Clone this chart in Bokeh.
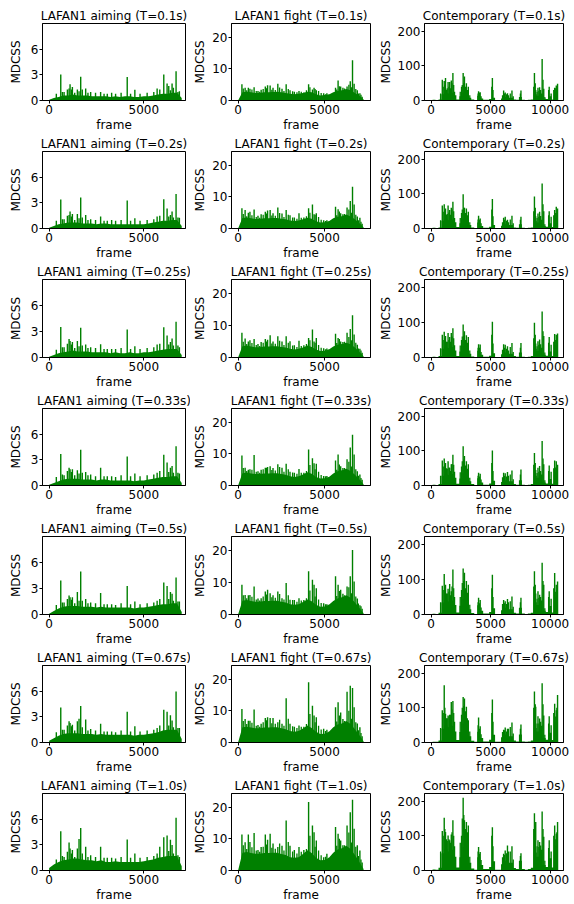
from bokeh.plotting import figure
from bokeh.layouts import gridplot
from bokeh.models import Range1d, FixedTicker
from bokeh.embed import file_html
from bokeh.resources import INLINE

# ---------------- data ----------------
periods = ["0.1", "0.2", "0.25", "0.33", "0.5", "0.67", "1.0"]
dataset_names = ["LAFAN1 aiming", "LAFAN1 fight", "Contemporary"]

# --- LAFAN1 aiming ---
aim_base_f = list(range(0, 7001, 250))
aim_base_01 = [0.1,0.3,0.4,0.6,0.6,0.7,0.6,0.6,0.6,0.5,0.5,0.5,0.5,0.4,0.5,0.4,0.5,0.5,0.4,0.4,0.5,0.5,0.6,0.7,0.8,0.8,0.9,0.9,0.3]
aim_base_02 = [0.1,0.3,0.5,0.6,0.7,0.7,0.7,0.6,0.6,0.6,0.5,0.6,0.6,0.5,0.5,0.5,0.5,0.5,0.5,0.5,0.5,0.6,0.7,0.8,0.9,0.9,1.0,1.0,0.3]
aim_base_025 = [0.1,0.3,0.5,0.6,0.7,0.8,0.7,0.7,0.7,0.6,0.6,0.6,0.6,0.5,0.6,0.5,0.5,0.6,0.5,0.5,0.6,0.6,0.7,0.8,0.9,1.0,1.0,1.0,0.3]
aim_base_033 = [0.1,0.3,0.5,0.7,0.8,0.8,0.8,0.7,0.7,0.7,0.6,0.7,0.7,0.6,0.6,0.6,0.6,0.6,0.5,0.6,0.6,0.7,0.8,0.9,1.0,1.0,1.1,1.1,0.3]
aim_base_05 = [0.1,0.4,0.7,0.9,1.0,1.0,1.0,0.9,0.9,0.9,0.8,0.9,0.8,0.8,0.8,0.8,0.8,0.8,0.7,0.8,0.8,0.9,1.0,1.1,1.2,1.2,1.3,1.3,0.3]
aim_base_067 = [0.2,0.5,0.8,1.0,1.1,1.1,1.1,1.0,1.0,1.0,0.9,1.0,0.9,0.9,0.9,0.9,0.9,0.9,0.8,0.9,0.9,1.0,1.1,1.2,1.4,1.5,1.5,1.5,0.4]
aim_base_10 = [0.3,0.7,1.0,1.2,1.3,1.4,1.4,1.3,1.2,1.2,1.1,1.2,1.0,1.0,1.1,1.0,1.0,1.0,1.0,1.0,1.1,1.2,1.3,1.5,1.6,1.7,1.7,1.7,0.5]

aim_spk_f = [380, 614, 700, 790, 965, 1053, 1105, 1175, 1228, 1350, 1491, 1579, 1667, 1750, 1930, 2050, 2193, 2450, 2719, 2900, 3070, 3300, 3509, 3800, 4123, 4300, 4526, 4800, 5175, 5526, 5702, 5842, 6053, 6228, 6316, 6404, 6491, 6560, 6702, 6800, 6877]
aim_spk_01 = [0.8, 3.05, 1.0, 1.0, 1.3, 1.4, 1.9, 1.3, 1.6, 0.9, 1.3, 1.1, 2.8, 1.3, 1.4, 0.9, 1.0, 0.9, 1.0, 0.8, 0.8, 0.9, 0.8, 0.9, 2.75, 0.8, 1.25, 0.8, 0.9, 1.0, 1.4, 1.3, 3.05, 2.0, 1.7, 1.2, 2.0, 1.5, 3.45, 1.0, 1.1]
aim_spk_02 = [0.9, 3.4, 1.1, 1.1, 1.5, 1.6, 2.0, 1.4, 1.7, 1.0, 1.7, 1.2, 3.65, 1.3, 1.6, 1.0, 1.1, 1.0, 1.4, 0.9, 0.9, 1.0, 0.9, 1.0, 3.3, 0.9, 1.2, 0.9, 1.0, 1.1, 1.4, 1.5, 3.45, 2.35, 1.4, 1.6, 2.0, 1.3, 4.05, 1.3, 1.25]
aim_spk_025 = [0.9, 3.55, 1.2, 1.2, 1.6, 2.15, 1.9, 1.5, 1.8, 1.1, 1.9, 1.3, 3.45, 1.4, 1.5, 1.1, 1.2, 1.1, 1.55, 1.0, 1.0, 1.0, 1.0, 1.1, 3.25, 1.0, 1.3, 1.0, 1.1, 1.2, 1.5, 1.6, 3.5, 2.55, 1.5, 1.8, 2.2, 1.4, 4.15, 1.4, 1.2]
aim_spk_033 = [1.0, 3.7, 1.3, 1.2, 1.7, 2.1, 1.9, 1.6, 1.9, 1.2, 1.8, 1.4, 4.2, 1.5, 1.6, 1.2, 1.3, 1.1, 2.1, 1.1, 1.1, 1.1, 1.0, 1.2, 3.4, 1.1, 1.4, 1.1, 1.2, 1.3, 1.5, 1.7, 3.6, 2.7, 1.6, 2.1, 2.3, 1.5, 4.6, 1.5, 1.4]
aim_spk_05 = [1.1, 3.95, 1.4, 1.4, 1.8, 2.2, 2.0, 1.7, 2.0, 1.3, 2.6, 1.6, 5.0, 1.6, 1.8, 1.3, 1.4, 1.3, 2.5, 1.2, 1.2, 1.2, 1.1, 1.3, 3.3, 1.2, 1.5, 1.2, 1.3, 1.4, 1.6, 1.8, 3.7, 3.3, 1.8, 2.6, 2.4, 1.6, 4.3, 1.5, 1.5]
aim_spk_067 = [1.2, 4.1, 1.5, 1.5, 2.0, 2.5, 2.3, 1.9, 2.1, 1.4, 2.5, 2.8, 4.3, 1.8, 2.7, 1.4, 1.6, 1.4, 2.2, 1.3, 1.3, 1.3, 1.2, 1.4, 3.6, 1.3, 1.9, 1.3, 1.4, 1.5, 1.7, 2.0, 3.85, 3.6, 2.0, 3.2, 2.6, 1.8, 6.0, 1.7, 1.7]
aim_spk_10 = [1.3, 4.6, 1.7, 1.6, 2.2, 3.3, 2.6, 2.0, 2.4, 1.6, 2.6, 3.7, 5.0, 2.0, 2.8, 1.6, 1.8, 1.6, 2.8, 1.5, 1.5, 1.5, 1.4, 1.6, 3.65, 1.5, 2.0, 1.5, 1.6, 1.7, 2.0, 2.8, 3.9, 4.1, 2.3, 3.6, 3.0, 2.0, 6.2, 1.8, 1.6]

# --- LAFAN1 fight ---
fight_base_f = list(range(0, 7251, 250))
fight_base_01 = [0.0,2.6,2.8,2.6,2.4,2.4,2.6,2.6,2.7,2.8,2.6,2.4,2.1,2.0,2.1,2.4,2.8,2.6,2.0,1.6,1.7,1.9,2.6,3.0,3.2,3.6,3.2,2.4,1.5,0.4]
fight_base_02 = [0.0,3.3,3.5,3.2,3.0,3.0,3.2,3.2,3.3,3.3,3.1,2.9,2.5,2.4,2.5,2.9,3.4,3.1,2.3,1.9,2.0,2.3,3.2,3.7,3.9,4.4,3.8,2.9,1.7,0.4]
fight_base_025 = [0.0,3.5,3.7,3.4,3.2,3.2,3.4,3.4,3.5,3.5,3.3,3.1,2.7,2.5,2.7,3.1,3.7,3.3,2.5,2.0,2.1,2.5,3.4,4.0,4.2,4.6,4.1,3.1,1.8,0.4]
fight_base_033 = [0.0,3.9,4.1,3.8,3.6,3.6,3.8,3.8,3.9,3.9,3.6,3.4,2.9,2.7,2.9,3.5,4.2,3.7,2.7,2.2,2.3,2.7,3.8,4.5,4.8,5.3,4.6,3.4,2.0,0.4]
fight_base_05 = [0.0,4.3,4.5,4.2,4.0,4.0,4.2,4.2,4.3,4.3,4.0,3.7,3.2,3.0,3.2,3.9,4.7,4.1,3.0,2.4,2.5,3.0,4.2,5.0,5.4,6.0,5.2,3.7,2.1,0.4]
fight_base_067 = [0.0,4.8,5.0,4.7,4.5,4.5,4.7,4.7,4.8,4.8,4.5,4.2,3.6,3.4,3.6,4.4,5.4,4.6,3.4,2.7,2.8,3.4,4.8,5.7,6.0,6.8,5.8,4.2,2.4,0.4]
fight_base_10 = [0.0,5.6,5.8,5.5,5.3,5.3,5.5,5.5,5.6,5.6,5.2,4.9,4.2,4.0,4.2,5.2,6.4,5.5,4.0,3.2,3.3,4.0,5.6,6.6,7.0,7.8,6.8,4.9,2.8,0.5]

fight_spk_f = [222, 407, 593, 685, 926, 1150, 1333, 1574, 1704, 1852, 2019, 2296, 2537, 2778, 3000, 3250, 3519, 3800, 4074, 4296, 4389, 4519, 4944, 5130, 5400, 5630, 5778, 5926, 6056, 6296, 6481, 6611, 6704, 6889, 7037, 7167]
fight_spk_01 = [5.1, 4.0, 4.0, 3.7, 4.2, 3.0, 3.4, 4.4, 4.8, 4.7, 4.0, 5.3, 3.7, 5.1, 3.2, 2.8, 3.0, 2.5, 5.1, 3.5, 4.0, 3.2, 2.3, 2.3, 2.0, 4.0, 6.3, 4.4, 4.0, 4.4, 6.1, 12.7, 5.3, 3.2, 2.3, 1.2]
fight_spk_02 = [6.4, 5.8, 5.0, 5.3, 6.0, 4.0, 4.5, 5.3, 5.7, 5.8, 4.8, 6.6, 4.7, 5.8, 4.2, 3.5, 4.8, 3.5, 6.4, 7.6, 4.5, 4.8, 2.6, 2.6, 2.5, 6.9, 6.1, 4.8, 4.5, 6.6, 8.7, 13.2, 7.6, 3.8, 3.4, 1.5]
fight_spk_025 = [7.7, 5.9, 5.0, 5.4, 5.8, 4.2, 4.8, 5.8, 5.5, 6.9, 5.0, 6.6, 5.0, 6.6, 5.1, 3.8, 5.2, 3.8, 6.1, 8.7, 5.0, 6.1, 2.9, 2.8, 2.7, 7.4, 6.1, 5.0, 4.8, 7.7, 8.9, 13.2, 7.2, 4.0, 2.7, 1.5]
fight_spk_033 = [9.5, 5.6, 5.0, 5.1, 9.6, 4.5, 5.0, 5.6, 5.8, 6.1, 5.5, 6.7, 5.6, 6.9, 4.3, 4.0, 5.2, 4.0, 11.4, 8.6, 7.0, 6.9, 3.0, 3.0, 3.0, 7.9, 9.8, 6.1, 5.5, 8.3, 12.0, 16.0, 9.8, 4.5, 3.5, 1.8]
fight_spk_05 = [9.3, 6.1, 6.0, 6.1, 8.7, 5.0, 5.1, 7.2, 7.7, 6.6, 6.0, 7.2, 5.1, 9.8, 4.6, 4.5, 5.1, 4.5, 13.5, 10.8, 9.3, 8.2, 3.5, 3.2, 3.2, 11.9, 9.3, 7.7, 6.5, 8.7, 11.9, 20.1, 10.3, 5.0, 2.9, 1.8]
fight_spk_067 = [10.6, 7.4, 6.9, 6.9, 10.4, 5.5, 5.9, 7.7, 8.0, 7.7, 7.7, 6.4, 5.9, 14.0, 5.9, 5.0, 5.4, 5.0, 19.0, 11.6, 8.5, 8.0, 4.3, 4.0, 3.8, 11.1, 12.7, 9.5, 7.4, 16.0, 17.9, 17.2, 11.1, 6.0, 4.8, 2.0]
fight_spk_10 = [11.4, 8.9, 11.4, 9.0, 11.8, 6.5, 7.4, 11.4, 9.7, 11.6, 8.5, 7.4, 7.8, 15.8, 7.8, 6.5, 7.4, 6.5, 21.6, 14.2, 12.1, 9.5, 4.2, 5.3, 4.5, 13.7, 11.6, 9.5, 8.0, 14.2, 18.4, 22.3, 13.2, 8.0, 6.3, 2.5]

fight_min_f = [300, 500, 800, 1050, 1250, 1450, 1650, 1950, 2150, 2400, 2650, 2900, 3150, 3400, 3650, 3950, 4150, 4450, 4650, 4800, 5050, 5250, 5550, 5700, 5850, 6150, 6400, 6550, 6800, 6950, 7100]
fight_min_01 = [3.8, 3.2, 3.5, 3.0, 2.8, 3.6, 3.9, 3.4, 3.3, 4.1, 3.0, 3.6, 2.9, 2.6, 2.8, 3.2, 4.2, 3.6, 3.0, 2.4, 2.0, 1.9, 2.3, 3.5, 4.5, 3.8, 5.0, 4.2, 3.6, 2.2, 1.8]
fight_min_02 = [4.6, 3.9, 4.2, 3.6, 3.4, 4.3, 4.7, 4.1, 4.0, 4.9, 3.6, 4.3, 3.5, 3.1, 3.4, 3.9, 5.0, 4.3, 3.6, 2.8, 2.4, 2.3, 2.8, 4.2, 5.4, 4.6, 6.0, 5.0, 4.3, 2.6, 2.1]
fight_min_025 = [4.9, 4.2, 4.5, 3.9, 3.6, 4.6, 5.0, 4.4, 4.3, 5.2, 3.9, 4.6, 3.7, 3.3, 3.6, 4.2, 5.4, 4.6, 3.9, 3.0, 2.6, 2.5, 3.0, 4.5, 5.8, 4.9, 6.4, 5.4, 4.6, 2.8, 2.2]
fight_min_033 = [5.5, 4.6, 5.0, 4.3, 4.0, 5.1, 5.6, 4.9, 4.7, 5.8, 4.3, 5.1, 4.1, 3.7, 4.0, 4.6, 6.5, 5.1, 4.3, 3.3, 2.9, 2.7, 3.3, 5.0, 6.6, 5.5, 7.5, 6.0, 5.1, 3.1, 2.4]
fight_min_05 = [6.0, 5.1, 5.5, 4.7, 4.4, 5.6, 6.2, 5.4, 5.2, 6.4, 4.7, 6.0, 4.5, 4.0, 4.4, 5.1, 7.5, 5.6, 4.7, 3.6, 3.2, 3.0, 3.6, 5.8, 7.3, 6.0, 8.5, 6.6, 5.6, 3.4, 2.6]
fight_min_067 = [6.8, 5.8, 6.2, 5.3, 5.0, 6.4, 7.0, 6.1, 5.9, 7.2, 5.3, 7.5, 5.1, 4.6, 5.0, 5.8, 9.0, 6.4, 5.3, 4.1, 3.6, 3.4, 4.1, 6.6, 8.5, 6.8, 10.0, 7.5, 6.4, 3.9, 3.0]
fight_min_10 = [8.0, 6.8, 7.3, 6.3, 5.9, 7.5, 8.2, 7.2, 6.9, 8.5, 6.3, 9.0, 6.0, 5.4, 5.9, 6.8, 11.0, 7.5, 6.3, 4.8, 4.3, 4.0, 4.8, 7.8, 10.0, 8.0, 12.0, 8.8, 7.5, 4.6, 3.5]

# --- Contemporary ---
cont_base_f = list(range(0, 10751, 250))
cont_base_01 = [1,2,1,3,18,22,20,22,15,3,12,22,18,8,3,1,14,6,2,2,4,8,1,1,6,10,8,8,3,2,10,2,1,2,3,18,14,20,6,4,12,3,25,0]
cont_base_02 = [1,2,1,3,22,28,24,26,18,4,15,28,22,10,3,1,17,7,2,2,5,10,1,1,8,12,10,10,3,2,12,2,1,2,3,22,17,25,7,5,15,4,30,0]
cont_base_025 = [1,2,1,4,25,30,27,30,20,4,17,32,25,11,3,1,19,8,2,2,5,12,1,1,9,14,11,11,4,2,14,2,1,2,4,25,19,28,8,5,17,4,35,0]
cont_base_033 = [1,2,1,4,28,34,30,33,22,5,20,36,28,12,4,1,21,9,2,2,6,14,1,1,10,15,12,12,4,2,15,2,1,2,4,28,22,32,9,6,19,5,40,0]
cont_base_05 = [1,2,1,5,34,42,37,40,27,6,25,45,35,15,4,1,26,11,3,3,7,18,1,1,12,19,15,15,5,3,19,3,1,3,5,35,27,40,11,7,24,6,50,0]
cont_base_067 = [1,2,2,6,40,50,44,48,32,7,30,55,42,18,5,2,31,13,3,3,8,22,2,2,15,23,18,18,6,3,23,3,2,3,6,42,32,48,13,8,28,7,60,0]
cont_base_10 = [1,3,2,8,50,62,55,60,40,9,38,68,52,22,6,2,38,16,4,4,10,27,2,2,18,28,22,22,7,4,28,4,2,4,8,52,40,60,16,10,35,9,72,0]

cont_spk_f = [943, 1105, 1213, 1294, 1429, 1563, 1698, 1833, 1968, 2561, 2695, 2803, 2965, 3127, 3989, 4124, 5148, 6092, 6226, 6415, 6792, 7547, 8679, 8787, 8976, 9111, 9326, 9461, 9919, 10081, 10377, 10512, 10620]
cont_spk_01 = [60, 56, 65, 31, 53, 53, 58, 79, 25, 40, 79, 69, 50, 40, 27, 24, 65, 29, 23, 21, 29, 29, 79, 30, 37, 38, 120, 34, 40, 20, 37, 43, 48]
cont_spk_02 = [66, 70, 58, 40, 66, 53, 60, 77, 30, 45, 99, 60, 58, 48, 37, 29, 85, 31, 34, 25, 37, 34, 92, 35, 43, 48, 130, 50, 50, 34, 53, 63, 58]
cont_spk_025 = [65, 73, 61, 45, 70, 58, 70, 83, 35, 50, 94, 75, 63, 58, 38, 37, 102, 38, 36, 32, 41, 41, 99, 40, 46, 51, 131, 61, 58, 36, 67, 65, 68]
cont_spk_033 = [72, 78, 65, 50, 70, 51, 61, 89, 40, 55, 113, 85, 70, 61, 37, 34, 101, 37, 35, 39, 43, 46, 94, 45, 51, 56, 128, 61, 58, 40, 72, 70, 60]
cont_spk_05 = [82, 115, 85, 60, 73, 87, 66, 128, 50, 70, 131, 119, 95, 85, 48, 41, 113, 41, 38, 44, 51, 48, 123, 60, 66, 56, 147, 85, 66, 45, 118, 85, 94]
cont_spk_067 = [93, 165, 83, 70, 78, 80, 117, 120, 60, 80, 131, 127, 103, 64, 72, 47, 124, 37, 43, 40, 58, 52, 147, 103, 76, 69, 171, 78, 76, 50, 112, 93, 137]
cont_spk_10 = [114, 152, 111, 90, 101, 87, 104, 145, 70, 100, 210, 145, 140, 130, 68, 53, 125, 48, 58, 72, 70, 50, 165, 140, 87, 82, 170, 97, 87, 55, 130, 106, 140]

cont_min_f = [800, 1020, 1160, 1360, 1500, 1630, 1760, 1900, 2450, 2620, 2750, 2880, 3050, 3250, 3950, 4060, 4200, 5100, 5200, 6000, 6160, 6340, 6500, 6650, 6900, 7500, 8620, 8750, 8900, 9050, 9200, 9400, 9550, 9870, 10300, 10430, 10560]
cont_min_01 = [20, 40, 45, 35, 40, 35, 50, 45, 25, 45, 50, 40, 30, 15, 20, 22, 12, 40, 30, 15, 20, 18, 15, 20, 12, 20, 40, 50, 25, 28, 30, 60, 10, 30, 30, 35, 40]
cont_min_02 = [24, 48, 52, 42, 46, 40, 55, 50, 30, 55, 60, 45, 38, 18, 26, 25, 15, 55, 35, 18, 25, 22, 18, 26, 15, 25, 50, 60, 30, 34, 36, 70, 12, 38, 38, 45, 45]
cont_min_025 = [26, 50, 55, 45, 50, 45, 60, 55, 34, 60, 62, 50, 42, 20, 28, 28, 16, 65, 40, 22, 28, 25, 20, 30, 16, 28, 55, 65, 32, 36, 38, 75, 14, 42, 45, 50, 52]
cont_min_033 = [28, 55, 58, 48, 52, 42, 62, 60, 38, 70, 75, 58, 48, 22, 28, 26, 17, 65, 42, 24, 28, 26, 28, 32, 18, 32, 60, 65, 36, 40, 42, 78, 15, 42, 50, 52, 48]
cont_min_05 = [35, 70, 80, 60, 65, 55, 80, 75, 50, 90, 95, 75, 62, 28, 35, 32, 20, 75, 50, 30, 32, 30, 35, 38, 22, 35, 80, 85, 45, 48, 50, 95, 18, 50, 75, 65, 70]
cont_min_067 = [42, 85, 100, 70, 75, 80, 95, 85, 60, 100, 105, 90, 70, 32, 50, 40, 24, 85, 60, 30, 35, 32, 40, 45, 26, 40, 100, 110, 55, 55, 60, 110, 22, 55, 85, 75, 100]
cont_min_10 = [55, 100, 120, 85, 90, 80, 110, 100, 80, 150, 160, 120, 110, 40, 55, 48, 30, 100, 70, 38, 45, 50, 55, 55, 32, 42, 120, 130, 70, 68, 72, 120, 28, 65, 100, 90, 110]

aim_ticks = [0, 3, 6]
fight_ticks = [0, 10, 20]
cont_ticks = [0, 100, 200]

# ---------------- assembly ----------------
AIM_BASE = [aim_base_01, aim_base_02, aim_base_025, aim_base_033, aim_base_05, aim_base_067, aim_base_10]
AIM_SPK = [aim_spk_01, aim_spk_02, aim_spk_025, aim_spk_033, aim_spk_05, aim_spk_067, aim_spk_10]
FIGHT_BASE = [fight_base_01, fight_base_02, fight_base_025, fight_base_033, fight_base_05, fight_base_067, fight_base_10]
FIGHT_SPK = [fight_spk_01, fight_spk_02, fight_spk_025, fight_spk_033, fight_spk_05, fight_spk_067, fight_spk_10]
FIGHT_MIN = [fight_min_01, fight_min_02, fight_min_025, fight_min_033, fight_min_05, fight_min_067, fight_min_10]
CONT_BASE = [cont_base_01, cont_base_02, cont_base_025, cont_base_033, cont_base_05, cont_base_067, cont_base_10]
CONT_SPK = [cont_spk_01, cont_spk_02, cont_spk_025, cont_spk_033, cont_spk_05, cont_spk_067, cont_spk_10]
CONT_MIN = [cont_min_01, cont_min_02, cont_min_025, cont_min_033, cont_min_05, cont_min_067, cont_min_10]

GREEN = "#008000"
FONT = "DejaVu Sans"
FS = "12px"

COLS = [
    dict(w=190, left=42, right=5, xr=(-350, 7200), yr=(0, 9.05), yt=aim_ticks, xt=[0, 5000],
         bf=aim_base_f, base=AIM_BASE, sf=aim_spk_f, spk=AIM_SPK, mf=None, mins=None, step=False, als=5),
    dict(w=185, left=36, right=5, xr=(-380, 7650), yr=(0, 24.3), yt=fight_ticks, xt=[0, 5000],
         bf=fight_base_f, base=FIGHT_BASE, sf=fight_spk_f, spk=FIGHT_SPK, mf=fight_min_f, mins=FIGHT_MIN,
         step=False, als=2),
    dict(w=199, left=44, right=11, xr=(-551, 11119), yr=(0, 222), yt=cont_ticks, xt=[0, 5000, 10000],
         bf=cont_base_f, base=CONT_BASE, sf=cont_spk_f, spk=CONT_SPK, mf=cont_min_f, mins=CONT_MIN,
         step=True, als=2),
]
FRAME_H = [77, 77, 78, 77, 78, 77, 77]


def style_axis(ax, ticks, standoff):
    ax.ticker = FixedTicker(ticks=ticks)
    ax.major_label_text_font = FONT
    ax.major_label_text_font_size = FS
    ax.major_label_text_color = "black"
    ax.axis_label_text_font = FONT
    ax.axis_label_text_font_size = FS
    ax.axis_label_text_font_style = "normal"
    ax.axis_label_text_color = "black"
    ax.axis_line_color = "black"
    ax.axis_line_width = 1
    ax.major_tick_line_color = "black"
    ax.major_tick_out = 3
    ax.major_tick_in = 0
    ax.minor_tick_line_color = None
    ax.major_label_standoff = 1
    ax.axis_label_standoff = standoff


rows = []
for r, per in enumerate(periods):
    row = []
    top = 23 if r == 0 else 17
    bottom = 34
    for c, spec in enumerate(COLS):
        p = figure(width=spec["w"], height=top + FRAME_H[r] + bottom,
                   x_range=Range1d(*spec["xr"]), y_range=Range1d(*spec["yr"]),
                   output_backend="svg", toolbar_location=None,
                   min_border_left=spec["left"], min_border_right=spec["right"],
                   min_border_top=top, min_border_bottom=bottom)
        p.title.text = f"{dataset_names[c]} (T={per}s)"
        p.title.text_font = FONT
        p.title.text_font_size = FS
        p.title.text_font_style = "normal"
        p.title.text_color = "black"
        p.title.align = "center"
        p.title.standoff = 1
        p.xgrid.visible = False
        p.ygrid.visible = False
        p.outline_line_color = "black"
        p.outline_line_width = 1
        p.background_fill_color = "white"
        p.border_fill_color = "white"
        p.xaxis.axis_label = "frame"
        p.yaxis.axis_label = "MDCSS"
        style_axis(p.xaxis[0], spec["xt"], 1)
        style_axis(p.yaxis[0], spec["yt"], spec["als"])

        base = spec["base"][r]
        if spec["step"]:
            p.varea_step(x=spec["bf"], y1=[0] * len(base), y2=base, step_mode="center",
                         fill_color=GREEN, fill_alpha=1.0)
        else:
            p.varea(x=spec["bf"], y1=[0] * len(base), y2=base, fill_color=GREEN, fill_alpha=1.0)
        if spec["mf"] is not None:
            mv = spec["mins"][r]
            p.segment(x0=spec["mf"], y0=[0] * len(mv), x1=spec["mf"], y1=mv,
                      line_color=GREEN, line_width=1.3)
        sv = spec["spk"][r]
        p.segment(x0=spec["sf"], y0=[0] * len(sv), x1=spec["sf"], y1=sv,
                  line_color=GREEN, line_width=1.4)
        row.append(p)
    rows.append(row)

grid = gridplot(rows, toolbar_location=None)

open("out.html", "w").write(file_html(grid, INLINE))
